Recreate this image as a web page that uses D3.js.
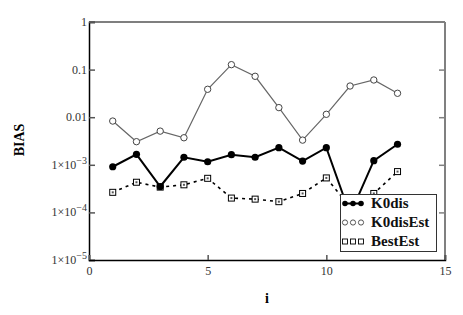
<!DOCTYPE html>
<html><head><meta charset="utf-8">
<script src="https://cdn.jsdelivr.net/npm/d3@7/dist/d3.min.js"></script>
<style>body{margin:0;background:#fff}svg{display:block}
text{font-family:"Liberation Serif","DejaVu Serif","Times New Roman",serif}</style>
</head><body>
<svg id="c" width="463" height="315"></svg>
<script>
const iVals = [1,2,3,4,5,6,7,8,9,10,11,12,13];
const k0dis = [9.1e-4,1.66e-3,3.5e-4,1.44e-3,1.16e-3,1.63e-3,1.44e-3,2.29e-3,1.2e-3,2.29e-3,9e-5,1.22e-3,2.7e-3];
const k0disEst = [0.0083,0.00306,0.0051,0.0037,0.0386,0.127,0.0723,0.0159,0.0033,0.0115,0.0452,0.0605,0.0318];
const bestEst = [2.64e-4,4.3e-4,3.4e-4,3.8e-4,5.2e-4,2.0e-4,1.9e-4,1.68e-4,2.5e-4,5.3e-4,1.3e-4,2.5e-4,7.2e-4];
const xTicks = [0,5,10,15];
const yTicks = [1,0.1,0.01,1e-3,1e-4,1e-5];
const yTickLabels = [["1",""],["0.1",""],["0.01",""],["1×10","−3"],["1×10","−4"],["1×10","−5"]];
const seriesNames = ["K0dis","K0disEst","BestEst"];

const svg = d3.select("#c");
const L=89,R=445,T=22,B=260;
const x = d3.scaleLinear().domain([0,15]).range([L,R]);
const y = d3.scaleLog().domain([1e-5,1]).range([B,T]);

// frame
svg.append("line").attr("x1",L).attr("x2",R).attr("y1",T).attr("y2",T).attr("stroke","#000").attr("stroke-width",1.2);
svg.append("line").attr("x1",R).attr("x2",R).attr("y1",T).attr("y2",B).attr("stroke","#808080").attr("stroke-width",2);

// left axis
const ya = d3.axisLeft(y).tickValues(yTicks).tickSize(-6).tickFormat("");
const gy = svg.append("g").attr("transform",`translate(${L},0)`).call(ya);
gy.select(".domain").attr("stroke","#000").attr("stroke-width",1.5);
gy.selectAll(".tick line").attr("stroke","#555").attr("stroke-width",1.5);
const yr = d3.axisRight(y).tickValues(yTicks.slice(1,-1)).tickSize(-6).tickFormat("");
const gr = svg.append("g").attr("transform",`translate(${R},0)`).call(yr);
gr.select(".domain").remove();
gr.selectAll(".tick line").attr("stroke","#808080").attr("stroke-width",1.5);

yTicks.forEach((v,k)=>{
  const t = svg.append("text").attr("x",L-2).attr("y",y(v)+4).attr("text-anchor","end")
    .attr("font-size",12).attr("fill","#333");
  const lab = yTickLabels[k];
  if(lab[1]){
    t.append("tspan").text(lab[0]);
    t.append("tspan").attr("dy",-5).attr("font-size",10).text(lab[1]);
  } else t.text(lab[0]);
});

const xa = d3.axisBottom(x).tickValues(xTicks).tickSize(-5).tickFormat(d3.format("d"));
const gx = svg.append("g").attr("transform",`translate(0,${B})`).call(xa);
gx.select(".domain").attr("stroke","#000").attr("stroke-width",1.5);
gx.selectAll(".tick line").attr("stroke","#555").attr("stroke-width",1.5);
gx.selectAll(".tick text").attr("font-family",null).attr("font-size",12).attr("fill","#333").attr("dy","1.0em");
gx.attr("font-family",null); gy.attr("font-family",null);

svg.append("text").attr("transform","translate(24,140) rotate(-90)").attr("text-anchor","middle")
  .attr("font-weight","bold").attr("font-size",14).text("BIAS");
svg.append("text").attr("x",(L+R)/2).attr("y",303).attr("text-anchor","middle")
  .attr("font-weight","bold").attr("font-size",14).text("i");

const line = d3.line().x(d=>x(d[0])).y(d=>y(d[1]));
const zip = arr => iVals.map((v,k)=>[v,arr[k]]);

svg.append("path").attr("d",line(zip(k0disEst))).attr("fill","none").attr("stroke","#666").attr("stroke-width",1.2);
svg.selectAll(".ce").data(zip(k0disEst)).join("circle").attr("cx",d=>x(d[0])).attr("cy",d=>y(d[1])).attr("r",3.2)
  .attr("fill","#fff").attr("stroke","#444").attr("stroke-width",1);

svg.append("path").attr("d",line(zip(bestEst))).attr("fill","none").attr("stroke","#000").attr("stroke-width",1.6).attr("stroke-dasharray","3,4");
function sq(g,cx,cy){
  g.append("rect").attr("x",cx-3).attr("y",cy-3).attr("width",6).attr("height",6).attr("fill","#fff").attr("stroke","#000").attr("stroke-width",1);
  g.append("rect").attr("x",cx-1).attr("y",cy-1).attr("width",2).attr("height",2).attr("fill","#555");
}
const gs = svg.append("g");
zip(bestEst).forEach(d=>sq(gs,x(d[0]),y(d[1])));

svg.append("path").attr("d",line(zip(k0dis))).attr("fill","none").attr("stroke","#000").attr("stroke-width",2);
svg.selectAll(".cf").data(zip(k0dis)).join("circle").attr("cx",d=>x(d[0])).attr("cy",d=>y(d[1])).attr("r",3.6).attr("fill","#000");

const lg = svg.append("g");
lg.append("rect").attr("x",340.5).attr("y",194.5).attr("width",96).attr("height",57).attr("fill","#fff").attr("stroke","#333").attr("stroke-width",1);
const ly = [203.5,222.5,241.5];
seriesNames.forEach((n,k)=>{
  const yy = ly[k];
  for(let m=0;m<3;m++){
    const cx = 345+m*8;
    if(k===0){
      lg.append("circle").attr("cx",cx).attr("cy",yy).attr("r",2.8).attr("fill","#000");
    } else if(k===1){
      lg.append("circle").attr("cx",cx).attr("cy",yy).attr("r",2.6).attr("fill","#fff").attr("stroke","#444").attr("stroke-width",0.9);
    } else {
      lg.append("rect").attr("x",cx-2.5).attr("y",yy-2.5).attr("width",5).attr("height",5).attr("fill","#fff").attr("stroke","#000").attr("stroke-width",0.9);
    }
  }
  if(k===0) lg.append("line").attr("x1",345).attr("x2",361).attr("y1",yy).attr("y2",yy).attr("stroke","#000").attr("stroke-width",2);
  lg.append("text").attr("x",371).attr("y",yy+4.5).attr("font-weight","bold").attr("font-size",15).attr("fill","#111").text(n);
});
</script>
</body></html>
